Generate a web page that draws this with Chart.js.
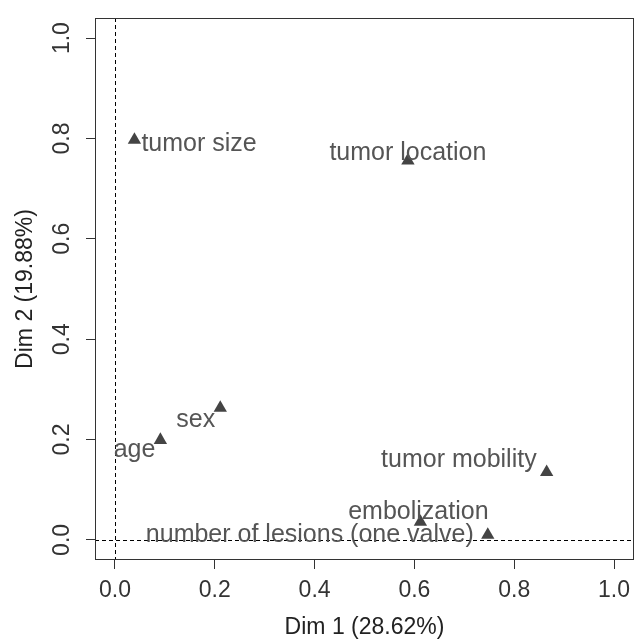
<!DOCTYPE html>
<html>
<head>
<meta charset="utf-8">
<script src="https://cdn.jsdelivr.net/npm/chart.js@4"></script>
<style>
html, body { margin: 0; padding: 0; background: #fff; }
#wrap { width: 635px; height: 639px; }
</style>
</head>
<body>
<div id="wrap"><canvas id="mca-chart"></canvas></div>
<script>
const variables = ['tumor size', 'tumor location', 'sex', 'age', 'tumor mobility', 'embolization', 'number of lesions (one valve)'];
const dim1 = [0.039, 0.587, 0.211, 0.091, 0.865, 0.612, 0.747];
const dim2 = [0.797, 0.756, 0.263, 0.199, 0.135, 0.036, 0.010];
const xTicks = [0, 0.2, 0.4, 0.6, 0.8, 1.0];
const yTicks = [0, 0.2, 0.4, 0.6, 0.8, 1.0];
const xTitle = 'Dim 1 (28.62%)';
const yTitle = 'Dim 2 (19.88%)';

// where each label sits relative to its point, in px: [dx, dy (baseline), align]
const labelPos = [[7, 11, 'left'], [0, -1, 'center'], [-5, 19, 'right'], [-5, 17, 'right'],
    [-10, -5, 'right'], [-2, -3, 'center'], [-14, 7, 'right']];

const FONT = '"Liberation Sans", Arial, sans-serif';

const decor = {
    id: 'decor',
    beforeDatasetsDraw(chart) {
        const {ctx, chartArea: a, scales: {x, y}} = chart;
        const x0 = Math.round(x.getPixelForValue(0)) + 0.5;
        const y0 = Math.round(y.getPixelForValue(0)) + 0.5;
        ctx.save();
        ctx.strokeStyle = '#000';
        ctx.lineWidth = 1;
        ctx.setLineDash([4, 3]);
        ctx.beginPath();
        ctx.moveTo(x0, a.top);
        ctx.lineTo(x0, a.bottom);
        ctx.moveTo(a.left, y0);
        ctx.lineTo(a.right, y0);
        ctx.stroke();
        ctx.restore();
    },
    afterDatasetsDraw(chart) {
        const {ctx} = chart;
        const pts = chart.getDatasetMeta(0).data;
        ctx.save();
        ctx.font = '25px ' + FONT;
        ctx.fillStyle = '#555';
        ctx.textBaseline = 'alphabetic';
        pts.forEach((p, i) => {
            const [dx, dy, align] = labelPos[i];
            ctx.textAlign = align;
            ctx.fillText(variables[i], p.x + dx, p.y + dy);
        });
        ctx.restore();
    },
    afterDraw(chart) {
        const {ctx, chartArea: a, scales: {y}} = chart;
        ctx.save();
        // box round the plot
        ctx.strokeStyle = '#333';
        ctx.lineWidth = 1;
        ctx.strokeRect(Math.round(a.left) + 0.5, Math.round(a.top) + 0.5,
            Math.round(a.right - a.left) - 1, Math.round(a.bottom - a.top) - 1);
        // y tick labels, vertical like R
        ctx.font = '23px ' + FONT;
        ctx.fillStyle = '#333';
        ctx.textAlign = 'center';
        ctx.textBaseline = 'middle';
        y.ticks.forEach(t => {
            ctx.save();
            ctx.translate(63, y.getPixelForValue(t.value));
            ctx.rotate(-Math.PI / 2);
            ctx.fillText(t.value.toFixed(1), 0, 0);
            ctx.restore();
        });
        ctx.restore();
    }
};

new Chart(document.getElementById('mca-chart'), {
    type: 'scatter',
    data: {
        datasets: [{
            label: 'variables',
            data: dim1.map((v, i) => ({x: v, y: dim2[i]})),
            pointStyle: 'triangle',
            pointRadius: 7.7,
            pointHoverRadius: 7.7,
            backgroundColor: '#444',
            borderWidth: 0
        }]
    },
    options: {
        responsive: true,
        maintainAspectRatio: false,
        animation: false,
        events: [],
        layout: {autoPadding: false, padding: {top: 18, right: 1, left: 0, bottom: 0}},
        plugins: {legend: {display: false}, tooltip: {enabled: false}},
        scales: {
            x: {
                type: 'linear',
                min: -0.04,
                max: 1.04,
                afterBuildTicks: s => { s.ticks = xTicks.map(v => ({value: v})); },
                afterFit: s => { s.height = 79; s.paddingLeft = 0; s.paddingRight = 0; },
                ticks: {
                    callback: v => v.toFixed(1),
                    font: {family: FONT, size: 23},
                    color: '#333',
                    padding: 8,
                    maxRotation: 0
                },
                grid: {drawOnChartArea: false, drawTicks: true, tickLength: 9, color: '#333'},
                border: {display: false},
                title: {
                    display: true,
                    text: xTitle,
                    color: '#222',
                    font: {family: FONT, size: 23, lineHeight: 1},
                    padding: 0
                }
            },
            y: {
                type: 'linear',
                min: -0.04,
                max: 1.04,
                afterBuildTicks: s => { s.ticks = yTicks.map(v => ({value: v})); },
                afterFit: s => { s.width = 95; s.paddingTop = 0; s.paddingBottom = 0; },
                ticks: {display: false},
                grid: {drawOnChartArea: false, drawTicks: true, tickLength: 9, color: '#333'},
                border: {display: false},
                title: {
                    display: true,
                    text: yTitle,
                    color: '#222',
                    font: {family: FONT, size: 23, lineHeight: 1},
                    padding: {top: 14, bottom: 0}
                }
            }
        }
    },
    plugins: [decor]
});
</script>
</body>
</html>
